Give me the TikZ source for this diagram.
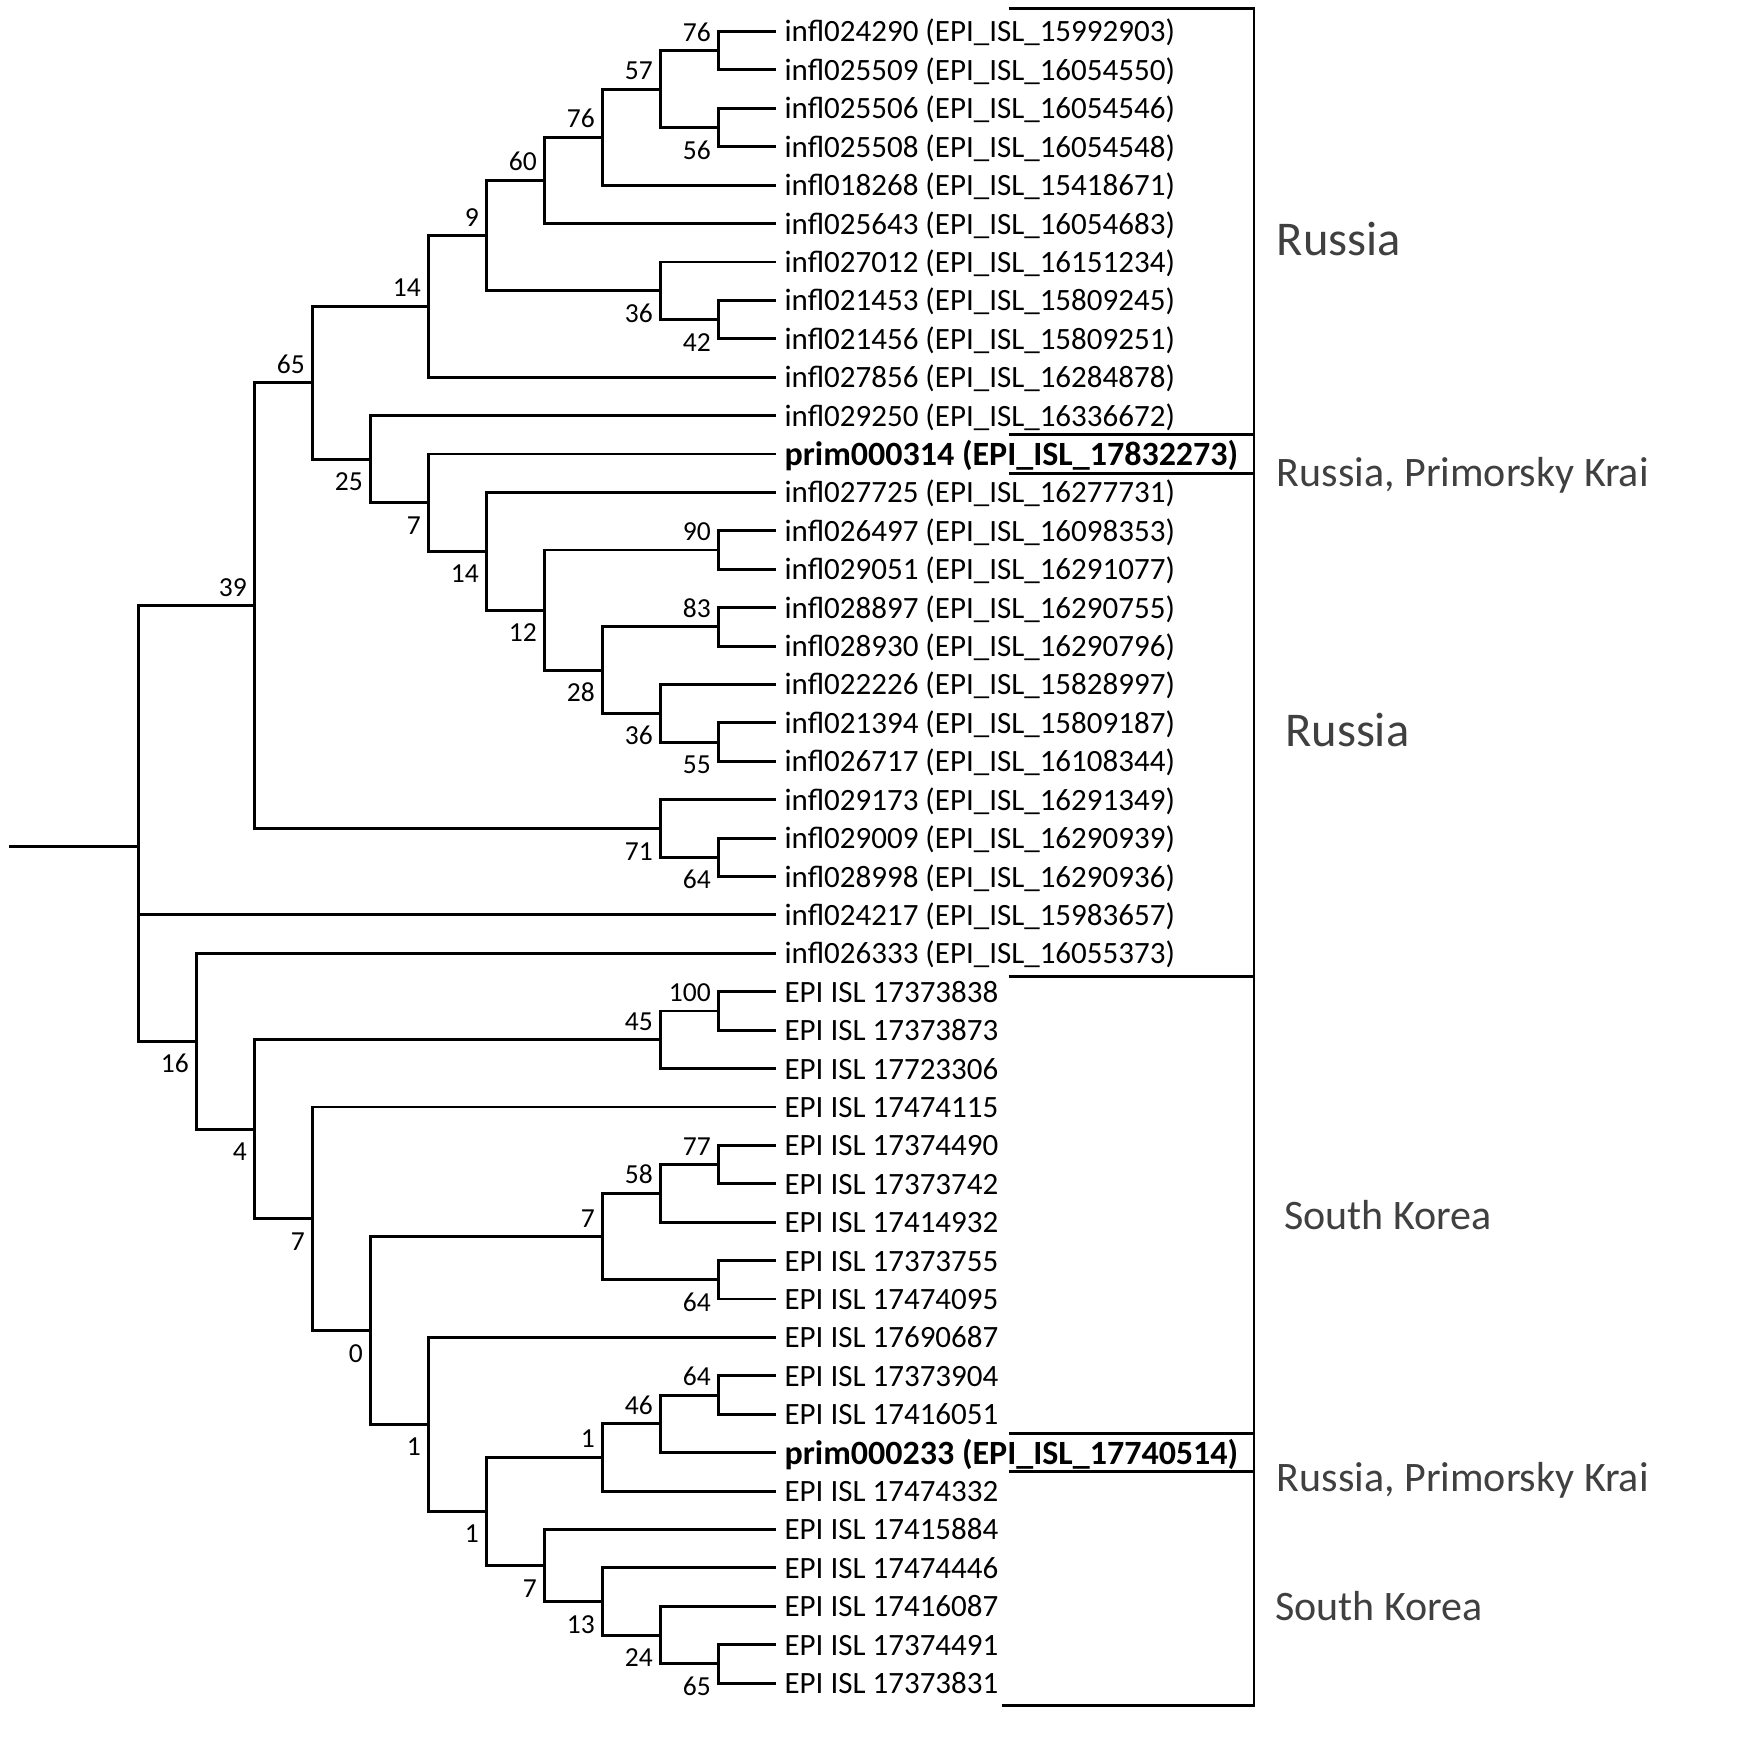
\documentclass[tikz,border=0pt]{standalone}
\usepackage{fontspec}
\setmainfont{Carlito}
\definecolor{regiongray}{RGB}{64,64,64}

\begin{document}
\begin{tikzpicture}[x=58pt, y=-38.41pt,
    branch/.style={line width=2.9pt},
    leaf/.style={anchor=west, inner xsep=8pt, inner ysep=0pt, text height=24pt, text depth=3pt,
        font=\fontsize{31}{36}\selectfont},
    leafbold/.style={leaf, text height=26pt, font=\fontsize{34}{40}\selectfont\bfseries},
    bsnum/.style={anchor=base east, inner sep=0pt, xshift=-7.5pt, font=\fontsize{27.5}{32}\selectfont},
    bsup/.style={bsnum, yshift=9.5pt},
    bsdn/.style={bsnum, yshift=-31.5pt},
    regbig/.style={anchor=base west, inner sep=0pt, text=regiongray, font=\fontsize{48.5}{56}\selectfont},
    regsmall/.style={regbig, font=\fontsize{42}{50}\selectfont}]

    \useasboundingbox (-2.386,-0.820) rectangle (28.028,44.741);

    % leaves, one per row
    \foreach \r/\lbl in {0/{infl024290 (EPI\_ISL\_15992903)}, 1/{infl025509 (EPI\_ISL\_16054550)},
        2/{infl025506 (EPI\_ISL\_16054546)}, 3/{infl025508 (EPI\_ISL\_16054548)},
        4/{infl018268 (EPI\_ISL\_15418671)}, 5/{infl025643 (EPI\_ISL\_16054683)},
        6/{infl027012 (EPI\_ISL\_16151234)}, 7/{infl021453 (EPI\_ISL\_15809245)},
        8/{infl021456 (EPI\_ISL\_15809251)}, 9/{infl027856 (EPI\_ISL\_16284878)},
        10/{infl029250 (EPI\_ISL\_16336672)}, 12/{infl027725 (EPI\_ISL\_16277731)},
        13/{infl026497 (EPI\_ISL\_16098353)}, 14/{infl029051 (EPI\_ISL\_16291077)},
        15/{infl028897 (EPI\_ISL\_16290755)}, 16/{infl028930 (EPI\_ISL\_16290796)},
        17/{infl022226 (EPI\_ISL\_15828997)}, 18/{infl021394 (EPI\_ISL\_15809187)},
        19/{infl026717 (EPI\_ISL\_16108344)}, 20/{infl029173 (EPI\_ISL\_16291349)},
        21/{infl029009 (EPI\_ISL\_16290939)}, 22/{infl028998 (EPI\_ISL\_16290936)},
        23/{infl024217 (EPI\_ISL\_15983657)}, 24/{infl026333 (EPI\_ISL\_16055373)},
        25/{EPI ISL 17373838}, 26/{EPI ISL 17373873}, 27/{EPI ISL 17723306},
        28/{EPI ISL 17474115}, 29/{EPI ISL 17374490}, 30/{EPI ISL 17373742},
        31/{EPI ISL 17414932}, 32/{EPI ISL 17373755}, 33/{EPI ISL 17474095},
        34/{EPI ISL 17690687}, 35/{EPI ISL 17373904}, 36/{EPI ISL 17416051},
        38/{EPI ISL 17474332}, 39/{EPI ISL 17415884}, 40/{EPI ISL 17474446},
        41/{EPI ISL 17416087}, 42/{EPI ISL 17374491}, 43/{EPI ISL 17373831}}
        \node[leaf] (l\r) at (11,\r) {\lbl};
    \node[leafbold] (l11) at (11,11) {prim000314 (EPI\_ISL\_17832273)};
    \node[leafbold] (l37) at (11,37) {prim000233 (EPI\_ISL\_17740514)};

    % inner nodes (level, row)
    \coordinate (root) at (0,21.22);
    \coordinate (stub) at (-2.226,21.22);
    \coordinate (n76a) at (10,0.5);
    \coordinate (n56) at (10,2.5);
    \coordinate (n57) at (9,1.5);
    \coordinate (n76b) at (8,2.75);
    \coordinate (n60) at (7,3.875);
    \coordinate (n42) at (10,7.5);
    \coordinate (n36a) at (9,6.75);
    \coordinate (n9) at (6,5.3125);
    \coordinate (n14a) at (5,7.156);
    \coordinate (n90) at (10,13.5);
    \coordinate (n83) at (10,15.5);
    \coordinate (n55) at (10,18.5);
    \coordinate (n36b) at (9,17.75);
    \coordinate (n28) at (8,16.625);
    \coordinate (n12) at (7,15.063);
    \coordinate (n14b) at (6,13.531);
    \coordinate (n7a) at (5,12.266);
    \coordinate (n25) at (4,11.133);
    \coordinate (n65a) at (3,9.145);
    \coordinate (n64a) at (10,21.5);
    \coordinate (n71) at (9,20.75);
    \coordinate (n39) at (2,14.947);
    \coordinate (n100) at (10,25.5);
    \coordinate (n45) at (9,26.25);
    \coordinate (n77) at (10,29.5);
    \coordinate (n58) at (9,30.25);
    \coordinate (n64b) at (10,32.5);
    \coordinate (n7c) at (8,31.375);
    \coordinate (n64c) at (10,35.5);
    \coordinate (n46) at (9,36.25);
    \coordinate (n1c) at (8,37.125);
    \coordinate (n65b) at (10,42.5);
    \coordinate (n24) at (9,41.75);
    \coordinate (n13) at (8,40.875);
    \coordinate (n7d) at (7,39.938);
    \coordinate (n1b) at (6,38.531);
    \coordinate (n1a) at (5,36.266);
    \coordinate (n0) at (4,33.820);
    \coordinate (n7b) at (3,30.910);
    \coordinate (n4) at (2,28.580);
    \coordinate (n16) at (1,26.290);

    % branches
    \draw[branch] (stub) -- (root);
    \foreach \p/\c in {root/n39, root/l23.west, root/n16, n39/n65a, n39/n71,
        n65a/n14a, n65a/n25, n14a/n9, n14a/l9.west, n9/n60, n9/n36a,
        n60/n76b, n60/l5.west, n76b/n57, n76b/l4.west, n57/n76a, n57/n56,
        n76a/l0.west, n76a/l1.west, n56/l2.west, n56/l3.west,
        n36a/l6.west, n36a/n42, n42/l7.west, n42/l8.west,
        n25/l10.west, n25/n7a, n7a/l11.west, n7a/n14b, n14b/l12.west, n14b/n12,
        n12/n90, n12/n28, n90/l13.west, n90/l14.west, n28/n83, n28/n36b,
        n83/l15.west, n83/l16.west, n36b/l17.west, n36b/n55, n55/l18.west, n55/l19.west,
        n71/l20.west, n71/n64a, n64a/l21.west, n64a/l22.west,
        n16/l24.west, n16/n4, n4/n45, n4/n7b, n45/n100, n45/l27.west,
        n100/l25.west, n100/l26.west, n7b/l28.west, n7b/n0, n0/n7c, n0/n1a,
        n7c/n58, n7c/n64b, n58/n77, n58/l31.west, n77/l29.west, n77/l30.west,
        n64b/l32.west, n64b/l33.west, n1a/l34.west, n1a/n1b, n1b/n1c, n1b/n7d,
        n1c/n46, n1c/l38.west, n46/n64c, n46/l37.west, n64c/l35.west, n64c/l36.west,
        n7d/l39.west, n7d/n13, n13/l40.west, n13/n24, n24/l41.west, n24/n65b,
        n65b/l42.west, n65b/l43.west}
        \draw[branch] (\p) |- (\c);

    % bootstrap values
    \foreach \n/\v/\s in {n76a/76/bsup, n56/56/bsdn, n57/57/bsup, n76b/76/bsup,
        n60/60/bsup, n36a/36/bsdn, n42/42/bsdn, n9/9/bsup, n14a/14/bsup,
        n65a/65/bsup, n25/25/bsdn, n7a/7/bsdn, n14b/14/bsdn, n12/12/bsdn,
        n90/90/bsup, n28/28/bsdn, n83/83/bsup, n36b/36/bsdn, n55/55/bsdn,
        n39/39/bsup, n71/71/bsdn, n64a/64/bsdn, n16/16/bsdn, n4/4/bsdn,
        n45/45/bsup, n100/100/bsup, n7b/7/bsdn, n0/0/bsdn, n7c/7/bsup,
        n58/58/bsup, n77/77/bsup, n64b/64/bsdn, n1a/1/bsdn, n1b/1/bsdn,
        n1c/1/bsup, n46/46/bsup, n64c/64/bsup, n7d/7/bsdn, n13/13/bsdn,
        n24/24/bsdn, n65b/65/bsdn}
        \node[\s] (t\n) at (\n) {\v};

    % region bracket
    \draw[branch] (15.005,-0.604) -| (19.234,43.58) -- (14.89,43.58);
    \foreach \y in {10.5,11.5,24.6,36.5,37.5}
        \draw[branch] (15.005,\y) -- (19.234,\y);

    \node[regbig] (ru1) at (19.626,5.82) {Russia};
    \node[regsmall] (rpk1) at (19.626,11.85) {Russia, Primorsky Krai};
    \node[regbig] (ru2) at (19.77,18.62) {Russia};
    \node[regsmall] (sk1) at (19.75,31.2) {South Korea};
    \node[regsmall] (rpk2) at (19.626,38.02) {Russia, Primorsky Krai};
    \node[regsmall] (sk2) at (19.6,41.36) {South Korea};
\end{tikzpicture}
\end{document}
